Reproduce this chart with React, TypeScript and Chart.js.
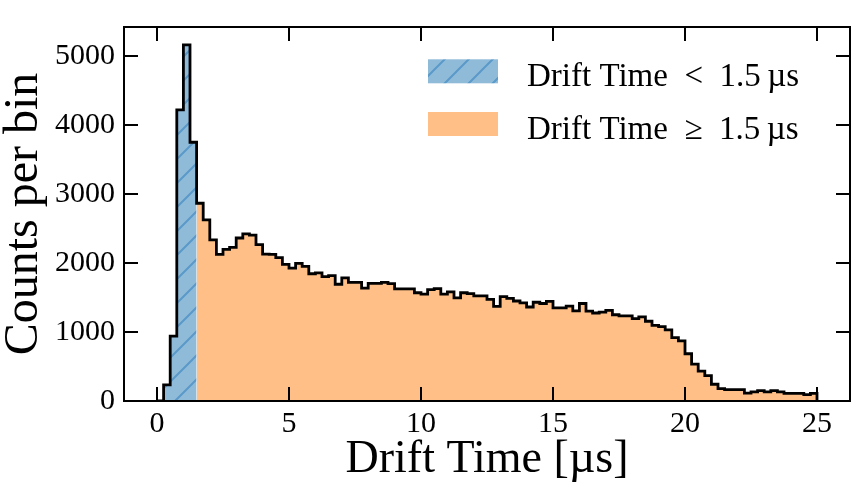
import React, { useEffect, useRef } from "react";
import { Chart, registerables } from "chart.js";

Chart.register(...registerables);

// ---- data ----
const binStart = 0;
const binWidth = 0.25;
const splitValue = 1.5;
const counts = [
  0, 235, 940, 4220, 5160, 3750, 2866, 2624, 2335, 2124, 2197, 2225, 2362, 2422, 2403, 2266, 2128, 2125, 2078, 1981,
  1926, 1995, 1950, 1844, 1858, 1803, 1816, 1692, 1784, 1720, 1720, 1637, 1706, 1706, 1720, 1702, 1624, 1624, 1624, 1569,
  1550, 1614, 1628, 1550, 1582, 1495, 1569, 1555, 1523, 1523, 1472, 1372, 1514, 1486, 1449, 1422, 1362, 1431, 1413, 1445,
  1349, 1349, 1376, 1307, 1413, 1303, 1275, 1289, 1314, 1250, 1234, 1234, 1193, 1220, 1156, 1096, 1078, 1032, 917, 871,
  685, 535, 433, 367, 243, 178, 165, 165, 165, 115, 133, 151, 133, 151, 133, 110, 110, 110, 92, 110,
];
const xTickValues = [0, 5, 10, 15, 20, 25];
const yTickValues = [0, 1000, 2000, 3000, 4000, 5000];
const xRange = [-1.25, 26.25];
const yRange = [0, 5420];
const seriesLabels = ["Drift Time\u2002<\u20021.5\u2009\u00b5s", "Drift Time\u2002\u2265\u20021.5\u2009\u00b5s"];
const xTitle = "Drift Time [\u00b5s]";
const yTitle = "Counts per bin";

const FONT = "'Liberation Serif', 'Times New Roman', serif";
const BLUE_FILL = "#8fbbd9";
const BLUE_HATCH = "#5a99c9";
const ORANGE_FILL = "#ffbf86";

function makeHatch(): CanvasPattern | string {
  const s = 24;
  const tile = document.createElement("canvas");
  tile.width = s;
  tile.height = s;
  const t = tile.getContext("2d");
  if (!t) return BLUE_FILL;
  t.fillStyle = BLUE_FILL;
  t.fillRect(0, 0, s, s);
  t.strokeStyle = BLUE_HATCH;
  t.lineWidth = 2;
  t.beginPath();
  for (const k of [0, s, 2 * s]) {
    t.moveTo(-4, k + 4);
    t.lineTo(k + 4, -4);
  }
  t.stroke();
  const p = t.createPattern(tile, "repeat");
  return p || BLUE_FILL;
}

export default function App() {
  const ref = useRef<HTMLCanvasElement | null>(null);

  useEffect(() => {
    const canvas = ref.current;
    if (!canvas) return;
    const hatch = makeHatch();

    const edges = counts.map((_, i) => binStart + i * binWidth);
    const end = binStart + counts.length * binWidth;
    const last = counts[counts.length - 1];

    const outline = counts.map((c, i) => ({ x: edges[i], y: c }));
    outline.push({ x: end, y: last });
    outline.push({ x: end, y: 0 });

    const low: { x: number; y: number }[] = [];
    const high: { x: number; y: number }[] = [];
    counts.forEach((c, i) => {
      if (edges[i] < splitValue) low.push({ x: edges[i], y: c });
      else high.push({ x: edges[i], y: c });
    });
    low.push({ x: splitValue, y: low[low.length - 1].y });
    high.push({ x: end, y: last });

    const framePlugin = {
      id: "framePlugin",
      afterDraw(chart: any) {
        const { ctx, chartArea: a, scales } = chart;
        const tl = 14;
        ctx.save();
        ctx.strokeStyle = "#000";
        ctx.lineWidth = 2;
        ctx.beginPath();
        xTickValues.forEach((v) => {
          const p = scales.x.getPixelForValue(v);
          ctx.moveTo(p, a.bottom);
          ctx.lineTo(p, a.bottom - tl);
          ctx.moveTo(p, a.top);
          ctx.lineTo(p, a.top + tl);
        });
        yTickValues.forEach((v) => {
          const p = scales.y.getPixelForValue(v);
          ctx.moveTo(a.left, p);
          ctx.lineTo(a.left + tl, p);
          ctx.moveTo(a.right, p);
          ctx.lineTo(a.right - tl, p);
        });
        ctx.stroke();
        ctx.strokeRect(a.left, a.top, a.right - a.left, a.bottom - a.top);

        // legend (top right, inside axes)
        const swLeft = a.right - 422;
        const swW = 70;
        const swH = 24;
        const rowTop = a.top + 32.3;
        const rowStep = 52.7;
        const textX = a.right - 323;
        const fills = [chart.data.datasets[1], chart.data.datasets[2]];
        ctx.font = `33px ${FONT}`;
        ctx.textBaseline = "alphabetic";
        ctx.textAlign = "left";
        fills.forEach((ds: any, i: number) => {
          const y = rowTop + i * rowStep;
          ctx.fillStyle = ds.backgroundColor;
          ctx.fillRect(swLeft, y, swW, swH);
          ctx.fillStyle = "#000";
          ctx.fillText(ds.label, textX, y + 26.7);
        });
        ctx.restore();
      },
    };

    const chart = new Chart(canvas, {
      type: "line",
      data: {
        datasets: [
          {
            label: "outline",
            data: outline,
            stepped: "before",
            borderColor: "#000",
            borderWidth: 2.8,
            pointRadius: 0,
            fill: false,
            order: 0,
          },
          {
            label: seriesLabels[0],
            data: low,
            stepped: "before",
            borderWidth: 0,
            borderColor: "rgba(0,0,0,0)",
            backgroundColor: hatch as any,
            pointRadius: 0,
            fill: "origin",
            order: 1,
          },
          {
            label: seriesLabels[1],
            data: high,
            stepped: "before",
            borderWidth: 0,
            borderColor: "rgba(0,0,0,0)",
            backgroundColor: ORANGE_FILL,
            pointRadius: 0,
            fill: "origin",
            order: 1,
          },
        ],
      },
      options: {
        animation: false,
        responsive: false,
        devicePixelRatio: 1,
        layout: { padding: { left: 0, right: 6, top: 6, bottom: 0 } },
        plugins: {
          legend: { display: false },
          tooltip: { enabled: false },
        },
        scales: {
          x: {
            type: "linear",
            min: xRange[0],
            max: xRange[1],
            grid: { display: false, drawTicks: false },
            border: { display: false },
            afterBuildTicks: (s: any) => {
              s.ticks = xTickValues.map((v) => ({ value: v }));
            },
            afterFit: (s: any) => {
              s.height = 95;
            },
            ticks: {
              autoSkip: false,
              maxRotation: 0,
              padding: 5,
              color: "#000",
              font: { family: FONT, size: 30 },
              callback: (v: any) => String(v),
            },
            title: {
              display: true,
              text: xTitle,
              color: "#000",
              font: { family: FONT, size: 46, lineHeight: 1 },
              padding: { top: 0, bottom: 13 },
            },
          },
          y: {
            type: "linear",
            min: yRange[0],
            max: yRange[1],
            grid: { display: false, drawTicks: false },
            border: { display: false },
            afterBuildTicks: (s: any) => {
              s.ticks = yTickValues.map((v) => ({ value: v }));
            },
            afterFit: (s: any) => {
              s.width = 124;
            },
            ticks: {
              autoSkip: false,
              padding: 9,
              color: "#000",
              font: { family: FONT, size: 30 },
              callback: (v: any) => String(v),
            },
            title: {
              display: true,
              text: yTitle,
              color: "#000",
              font: { family: FONT, size: 48, lineHeight: 1 },
              padding: { top: 0, bottom: 0 },
            },
          },
        },
      },
      plugins: [framePlugin],
    });

    return () => chart.destroy();
  }, []);

  return (
    <div style={{ position: "absolute", left: 0, top: 0, width: 856, height: 496, background: "#fff" }}>
      <canvas ref={ref} width={856} height={496} style={{ display: "block" }} />
    </div>
  );
}
